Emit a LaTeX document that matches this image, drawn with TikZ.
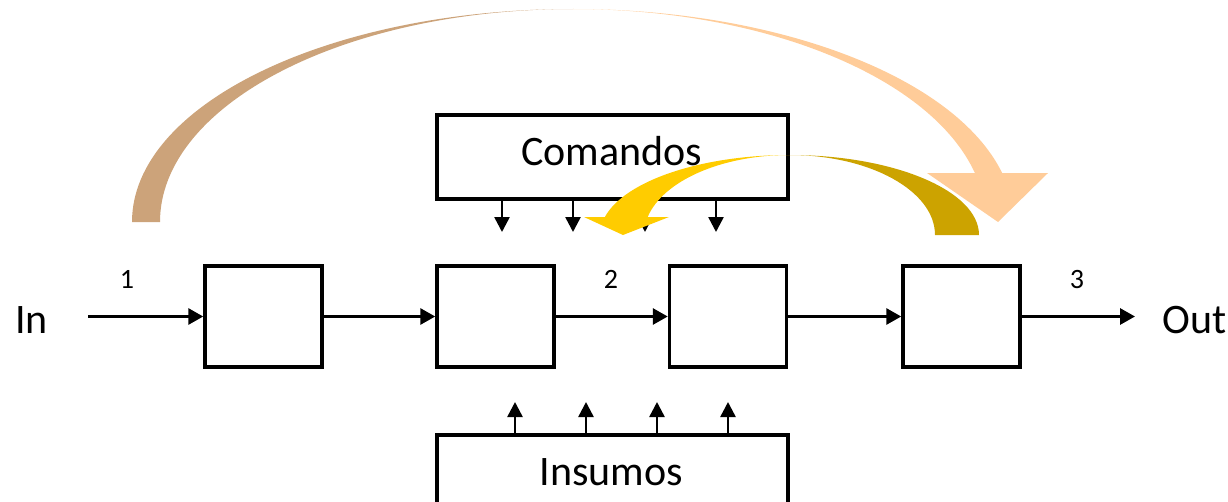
\documentclass[tikz,border=0pt]{standalone}
\usepackage{fontspec}
\setmainfont{Carlito}
\usetikzlibrary{arrows.meta}
\definecolor{peachdark}{RGB}{204,163,122}
\definecolor{peach}{RGB}{255,204,153}
\definecolor{goldlight}{RGB}{255,204,0}
\definecolor{golddark}{RGB}{204,163,0}
\begin{document}
\begin{tikzpicture}[x=1pt,y=1pt,
  blk/.style={draw, line width=3.5pt, minimum width=117pt, minimum height=101pt, inner sep=0pt},
  side/.style={draw, line width=3.5pt, minimum width=351pt, inner sep=0pt},
  flow/.style={line width=3pt, -{Triangle[length=15pt,width=16pt]}},
  feed/.style={line width=2.5pt, -{Triangle[length=15pt,width=15pt]}},
  big/.style={font=\fontsize{42}{50}\selectfont},
  num/.style={font=\fontsize{28}{34}\selectfont}]
\useasboundingbox (0,0) rectangle (1228,-501);

% blocks
\node[blk] (b1) at (263.5,-316.5) {};
\node[blk] (b2) at (495.5,-316.5) {};
\node[blk] (b3) at (728,-316.5) {};
\node[blk] (b4) at (961.5,-316.5) {};

% side boxes
\node[side, minimum height=84pt] (cmd) at (612.5,-157) {};
\node[side, minimum height=74pt] (ins) at (612.5,-472) {};
\node[big, anchor=base] (cmdtxt) at (611.5,-165) {Comandos};
\node[big, anchor=base] (instxt) at (611.5,-485) {Insumos};

% texts
\node[big, anchor=base west, inner sep=0pt] (in) at (15,-333) {In};
\node[big, anchor=base west, inner sep=0pt] (out) at (1162,-333) {Out};
\node[num, anchor=base] (n1) at (127,-288) {1};
\node[num, anchor=base] (n2) at (611,-288) {2};
\node[num, anchor=base] (n3) at (1077,-288) {3};

% flow arrows
\coordinate (inA) at (88,-316.5);
\coordinate (outA) at (1135,-316.5);
\draw[flow] (inA) -- (b1.west);
\draw[flow] (b1.east) -- (b2.west);
\draw[flow] (b2.east) -- (b3.west);
\draw[flow] (b3.east) -- (b4.west);
\draw[flow] (b4.east) -- (outA);

% command arrows
\foreach \i/\x in {1/502,2/573,3/645,4/716}{
  \coordinate (c\i) at (\x,-232);
  \draw[feed] (cmd.south -| c\i) -- (c\i);
}
% input arrows
\foreach \i/\x in {1/515,2/586,3/657,4/728}{
  \coordinate (s\i) at (\x,-402);
  \draw[feed] (ins.north -| s\i) -- (s\i);
}

% big curved arrow: back (dark) part and front (light) part
\fill[peachdark] (132,-222) arc[start angle=180,end angle=90,x radius=441,y radius=213]
  arc[start angle=90,end angle=180,x radius=413,y radius=213] -- cycle;
\fill[peach] (573,-9) arc[start angle=90,end angle=13.3,x radius=441,y radius=213]
  -- (1048,-173) -- (998,-222) -- (927,-173) -- (974.9,-173)
  arc[start angle=13.3,end angle=90,x radius=413,y radius=213] -- cycle;

% yellow curved arrow
\fill[golddark] (979,-235) arc[start angle=0,end angle=90,x radius=189.5,y radius=80]
  arc[start angle=90,end angle=0,x radius=145.5,y radius=80] -- cycle;
\fill[goldlight] (789.5,-155) arc[start angle=90,end angle=167,x radius=189.5,y radius=80]
  -- (584,-217) -- (623,-235) -- (669,-217) -- (647.7,-217)
  arc[start angle=167,end angle=90,x radius=145.5,y radius=80] -- cycle;
\end{tikzpicture}
\end{document}
